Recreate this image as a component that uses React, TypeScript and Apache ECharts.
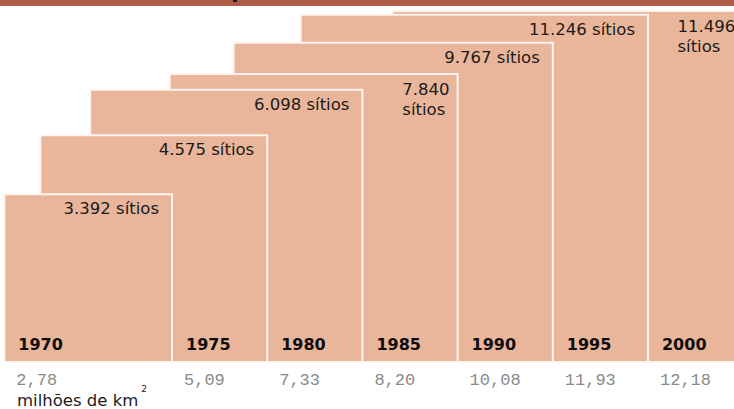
import React, { useEffect, useRef } from "react";
import * as echarts from "echarts";

// ---- data ----
const years = ["1970", "1975", "1980", "1985", "1990", "1995", "2000"];
const areaMillionKm2 = [2.78, 5.09, 7.33, 8.2, 10.08, 11.93, 12.18];
const sites = [3392, 4575, 6098, 7840, 9767, 11246, 11496];
const wrappedLabelYears = ["1985", "2000"];
const unitCaption = "milhões de km";

// ---- layout constants (axis units = sqrt of million km²) ----
const FIRST_RIGHT = 1.7106;
const STEP = 0.9468;
const X_MAX = 7.3;
const Y_MAX = 3.6;

const FILL = "#eab69b";
const BORDER = "#fff4ee";
const SANS = '"DejaVu Sans", Verdana, sans-serif';
const MONO = '"Liberation Mono", "Courier New", monospace';

const fmtThousands = (n: number) =>
  String(n).replace(/\B(?=(\d{3})+(?!\d))/g, ".");
const fmtDecimal = (v: number) => v.toFixed(2).replace(".", ",");

let measureCtx: CanvasRenderingContext2D | null = null;
function textWidth(t: string, font: string): number {
  if (!measureCtx) {
    const c = document.createElement("canvas");
    measureCtx = c.getContext("2d");
  }
  if (!measureCtx) return t.length * 9;
  measureCtx.font = font;
  return measureCtx.measureText(t).width;
}

export default function App() {
  const ref = useRef<HTMLDivElement>(null);

  useEffect(() => {
    if (!ref.current) return;
    const chart = echarts.init(ref.current, undefined, { renderer: "svg" });

    const data = areaMillionKm2.map((a, i) => [
      FIRST_RIGHT + i * STEP,
      Math.sqrt(a),
      i,
    ]);

    const labelFontSize = 16.5;
    const labelFont = `${labelFontSize}px "DejaVu Sans"`;

    const renderItem = (params: any, api: any) => {
      const i = params.dataIndex;
      const right = api.value(0);
      const side = api.value(1);
      const br = api.coord([right, 0]);
      const tl = api.coord([right - side, side]);
      const prevRightPx =
        i === 0 ? tl[0] : api.coord([FIRST_RIGHT + (i - 1) * STEP, 0])[0];
      const labelX = prevRightPx + 14;

      const siteText =
        wrappedLabelYears.indexOf(years[i]) >= 0
          ? fmtThousands(sites[i]) + "\nsítios"
          : fmtThousands(sites[i]) + " sítios";
      const lines = siteText.split("\n");
      let siteEl: any;
      if (lines.length > 1) {
        const maxW = Math.max(...lines.map((l) => textWidth(l, labelFont)));
        siteEl = {
          type: "text",
          x: br[0] - 8 - maxW,
          y: tl[1] + 5,
          z2: 50,
          style: {
            text: siteText,
            fill: "#1a1a1a",
            fontSize: labelFontSize,
            fontFamily: SANS,
            align: "left",
            verticalAlign: "top",
            lineHeight: 20,
          },
        };
      } else {
        siteEl = {
          type: "text",
          x: br[0] - 13,
          y: tl[1] + 6,
          z2: 50,
          style: {
            text: siteText,
            fill: "#1a1a1a",
            fontSize: labelFontSize,
            fontFamily: SANS,
            align: "right",
            verticalAlign: "top",
          },
        };
      }

      return {
        type: "group",
        children: [
          {
            type: "rect",
            z2: 10 - i,
            shape: {
              x: tl[0],
              y: tl[1],
              width: br[0] - tl[0],
              height: br[1] - tl[1],
            },
            style: { fill: FILL, stroke: BORDER, lineWidth: 2 },
          },
          siteEl,
          {
            type: "text",
            x: labelX,
            y: br[1] - 18,
            z2: 50,
            style: {
              text: years[i],
              fill: "#0d0d0d",
              fontSize: 16,
              fontWeight: "bold",
              fontFamily: SANS,
              align: "left",
              verticalAlign: "middle",
            },
          },
          {
            type: "text",
            x: labelX - 2,
            y: br[1] + 18,
            z2: 50,
            style: {
              text: fmtDecimal(areaMillionKm2[i]),
              fill: "#8a8a8a",
              fontSize: 17,
              fontFamily: MONO,
              align: "left",
              verticalAlign: "middle",
            },
          },
        ],
      };
    };

    const captionW = textWidth(unitCaption, labelFont);

    chart.setOption({
      animation: false,
      backgroundColor: "#ffffff",
      grid: { left: 0, right: 0, top: 0, bottom: 47 },
      xAxis: { type: "value", min: 0, max: X_MAX, show: false },
      yAxis: { type: "value", min: 0, max: Y_MAX, show: false },
      series: [
        {
          type: "custom",
          clip: false,
          renderItem,
          data,
        },
      ],
      graphic: [
        {
          type: "rect",
          left: 0,
          top: 0,
          z: 100,
          shape: { width: 734, height: 6 },
          style: { fill: "#b05b48" },
        },
        {
          type: "rect",
          left: 233,
          top: 0,
          z: 101,
          shape: { width: 4, height: 2 },
          style: { fill: "#1a1a1a" },
        },
        {
          type: "text",
          x: 17,
          y: 400,
          style: {
            text: unitCaption,
            fill: "#1a1a1a",
            fontSize: labelFontSize,
            fontFamily: SANS,
            verticalAlign: "middle",
          },
        },
        {
          type: "text",
          x: 17 + captionW + 3,
          y: 389,
          style: {
            text: "2",
            fill: "#1a1a1a",
            fontSize: 9,
            fontFamily: SANS,
            verticalAlign: "middle",
          },
        },
      ],
    });

    return () => chart.dispose();
  }, []);

  return (
    <div
      ref={ref}
      style={{ position: "fixed", left: 0, top: 0, width: 734, height: 409 }}
    />
  );
}
